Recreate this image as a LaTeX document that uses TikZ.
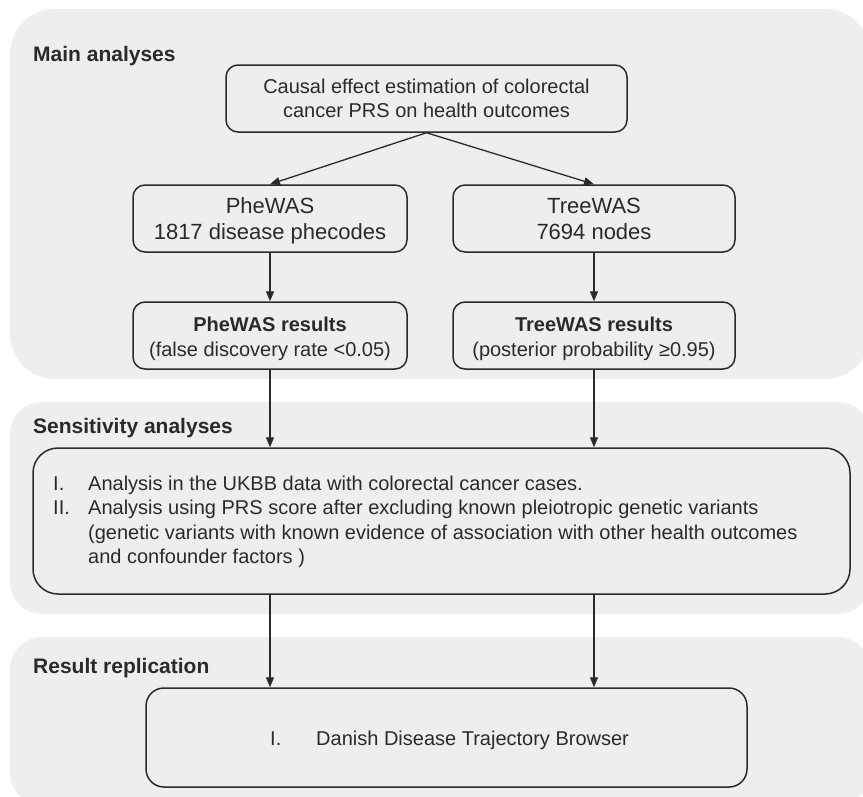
\documentclass[tikz,border=0pt]{standalone}
\usepackage{fontspec}
\setmainfont{Liberation Sans}
\usetikzlibrary{arrows.meta}
\definecolor{panelgray}{HTML}{EEEEEE}
\definecolor{linegray}{HTML}{2A2A2A}
\newcommand\fszA{\fontsize{20}{24}\selectfont}
\newcommand\fszB{\fontsize{22}{26}\selectfont}
\newcommand\fszC{\fontsize{20}{25}\selectfont}
\newcommand\fszD{\fontsize{20}{24.5}\selectfont}
\newcommand\hstr[1]{\rule{0pt}{#1pt}}
\newcommand\dstr[1]{\rule[-#1pt]{0pt}{#1pt}}
\begin{document}
\begin{tikzpicture}[x=1pt,y=-1pt,
  panel/.style={fill=panelgray},
  box/.style={draw=linegray, line width=1.5pt, rounded corners=12pt, inner sep=0pt, align=center, text=linegray},
  lbl/.style={anchor=base west, inner sep=0pt, font=\fontsize{21}{25}\selectfont\bfseries, text=linegray},
  plain/.style={anchor=base west, inner sep=0pt, text=linegray},
  arr/.style={draw=linegray, line width=1.3pt, -{Triangle[length=10pt,width=8pt]}}]
\useasboundingbox (0,0) rectangle (863,796);
\clip (0,0) rectangle (863,796);
% panels
\fill[panel, rounded corners=45pt] (10,9) rectangle (870,379);
\fill[panel, rounded corners=32pt] (10,402) rectangle (870,614);
\fill[panel, rounded corners=32pt] (10,637) rectangle (870,805);
% labels
\node[lbl] (lmain) at (33,61) {Main analyses};
\node[lbl] (lsens) at (33,433) {Sensitivity analyses};
\node[lbl] (lrep) at (33,673) {Result replication};
% boxes
\node[box, font=\fszA, minimum width=401pt, minimum height=67pt] (top) at (426.5,98.5)
  {\hstr{15}Causal effect estimation of colorectal\\cancer PRS on health outcomes\dstr{2}};
\node[box, font=\fszB, minimum width=274pt, minimum height=67pt] (phe) at (270,218.5)
  {\hstr{20}PheWAS\\1817 disease phecodes\dstr{5}};
\node[box, font=\fszB, minimum width=282pt, minimum height=67pt] (tree) at (594,218.5)
  {\hstr{20}TreeWAS\\7694 nodes\dstr{5}};
\node[box, font=\fszC, minimum width=274pt, minimum height=67pt] (pheres) at (270,335.5)
  {\hstr{21}{\bfseries PheWAS results}\\(false discovery rate <0.05)\dstr{5}};
\node[box, font=\fszC, minimum width=282pt, minimum height=67pt] (treeres) at (594,335.5)
  {\hstr{21}{\bfseries TreeWAS results}\\(posterior probability ≥0.95)\dstr{5}};
\node[box, rounded corners=25pt, minimum width=817pt, minimum height=146pt] (sens) at (441.5,521) {};
\node[plain, font=\fszD] (senstext) at (53,490)
  {\begin{tabular}[t]{@{}p{35pt}@{}l@{}}
   I. & Analysis in the UKBB data with colorectal cancer cases.\\
   II. & Analysis using PRS score after excluding known pleiotropic genetic variants\\
   & (genetic variants with known evidence of association with other health outcomes\\
   & and confounder factors )
   \end{tabular}};
\node[box, rounded corners=18pt, minimum width=601pt, minimum height=99pt] (res) at (446.5,737.5) {};
\node[plain, font=\fszA] (restext) at (270,745)
  {\makebox[46pt][l]{I.}Danish Disease Trajectory Browser};
% connectors
\draw[arr] (top.south) -- (phe.north);
\draw[arr] (top.south) -- (tree.north);
\draw[arr] (phe.south) -- (pheres.north);
\draw[arr] (tree.south) -- (treeres.north);
\draw[arr] (pheres.south) -- (pheres.south |- sens.north);
\draw[arr] (treeres.south) -- (treeres.south |- sens.north);
\draw[arr] (sens.south -| pheres.south) -- (res.north -| pheres.south);
\draw[arr] (sens.south -| treeres.south) -- (res.north -| treeres.south);
\end{tikzpicture}
\end{document}
